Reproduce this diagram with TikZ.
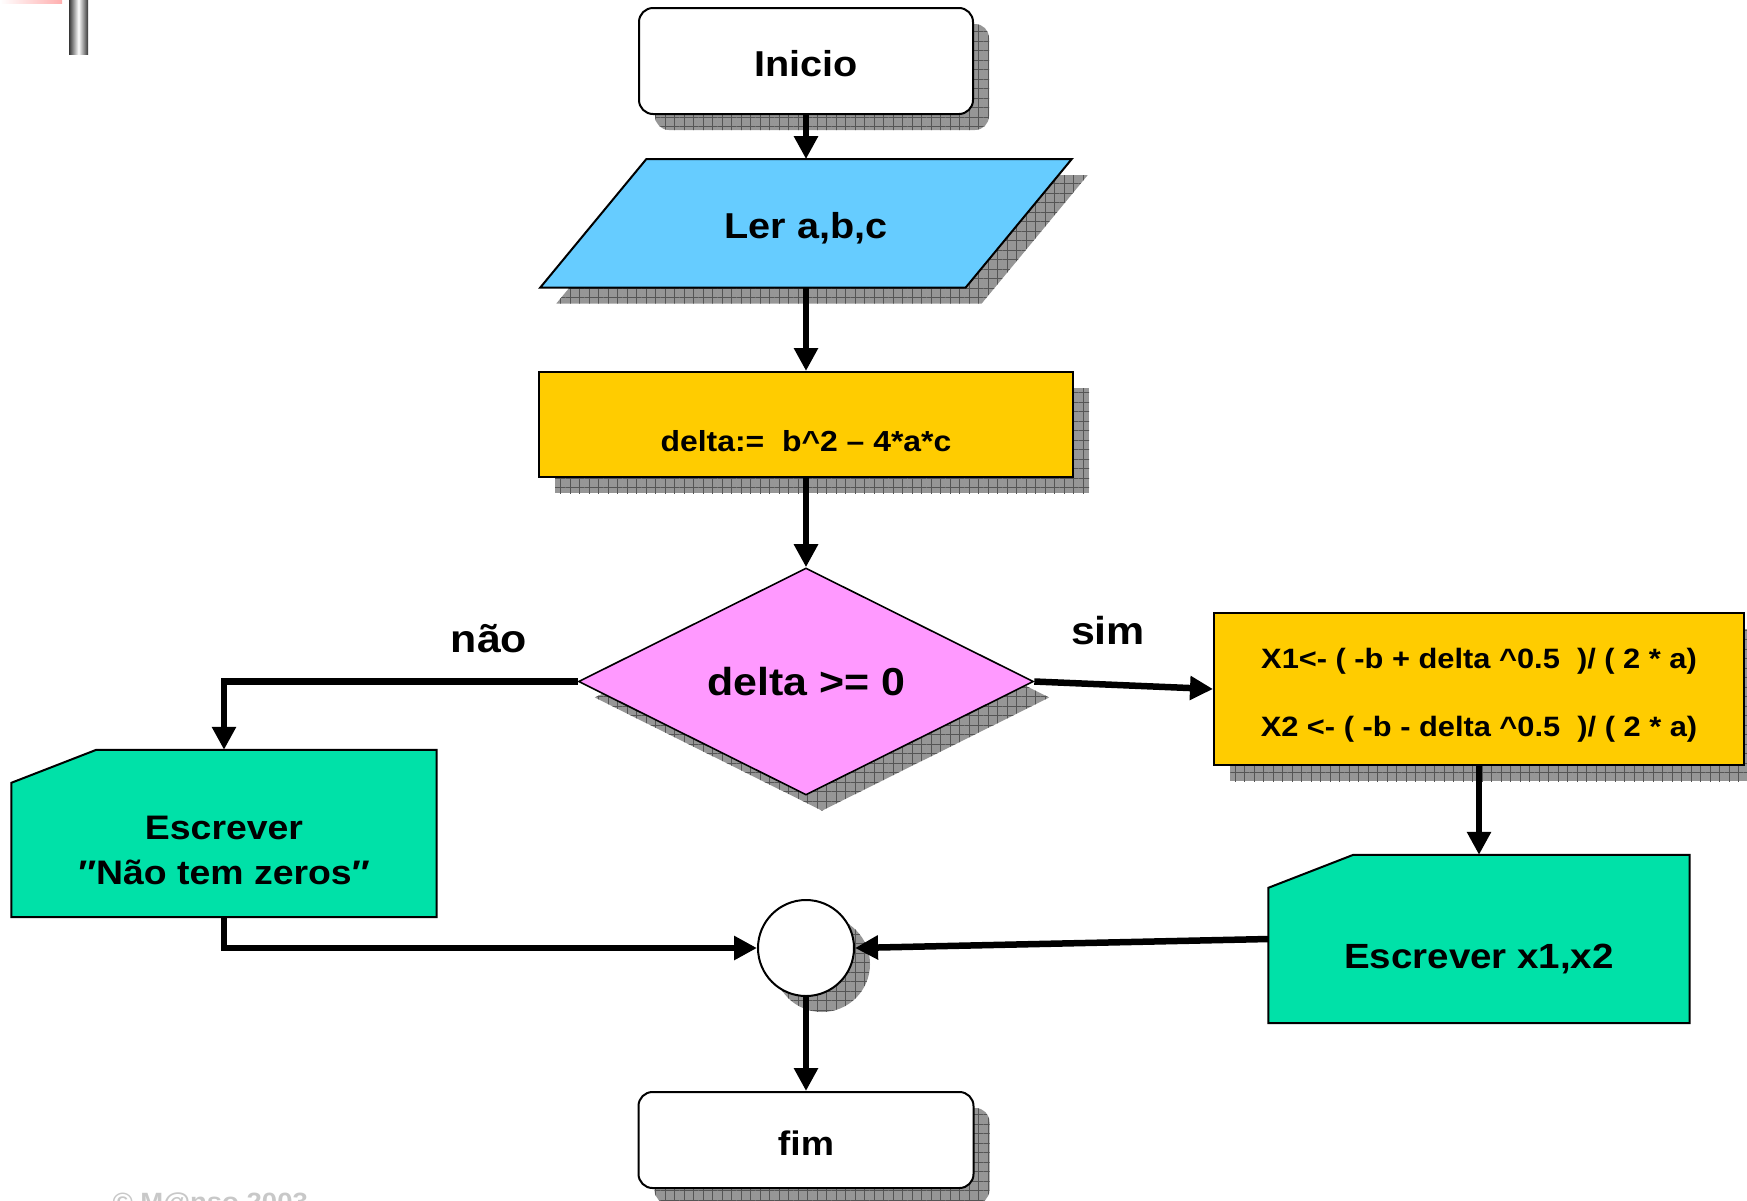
\documentclass[tikz,border=0pt]{standalone}
\usepackage{fontspec}
\setmainfont{Liberation Sans}[FakeStretch=1.1]
\usetikzlibrary{arrows.meta,shapes.geometric,shadows,patterns.meta}
\pgfdeclarelayer{background}
\pgfsetlayers{background,main}
\definecolor{lerblue}{RGB}{102,204,255}
\definecolor{gold}{RGB}{255,204,0}
\definecolor{orchid}{RGB}{255,153,255}
\definecolor{mint}{RGB}{0,225,168}
\definecolor{shadebase}{RGB}{150,150,150}
\definecolor{shadeline}{RGB}{85,85,85}
\definecolor{footgray}{RGB}{200,200,200}
\definecolor{barpink}{RGB}{255,175,175}
\definecolor{bargray}{RGB}{55,55,55}
\begin{document}
\begin{tikzpicture}[x=1pt,y=-1pt,
  hatchshadow/.style={general shadow={shadow xshift=16pt,shadow yshift=-16pt,fill=shadebase,
     postaction={pattern={Hatch[angle=0,distance=9.5pt,line width=0.9pt]},pattern color=shadeline}}},
  outline/.style={draw=black,line width=2pt},
  termbox/.style={outline,fill=white,rounded corners=14pt,hatchshadow,inner sep=0pt,text height=30pt,text depth=0pt},
  procbox/.style={outline,fill=gold,hatchshadow,inner sep=0pt},
  outbox/.style={inner sep=0pt},
  conn/.style={line width=6.5pt,-{Triangle[length=23pt,width=23pt]}},
  fA/.style={font=\bfseries\fontsize{36}{43}\selectfont},
  fB/.style={font=\bfseries\fontsize{34}{44.3}\selectfont},
  fC/.style={font=\bfseries\fontsize{39}{46}\selectfont},
  fD/.style={font=\bfseries\fontsize{29}{35}\selectfont},
  fE/.style={font=\bfseries\fontsize{28}{68.4}\selectfont},
]
\useasboundingbox (0,0) rectangle (1747,1200);
\clip (0,0) rectangle (1747,1200);

% slide decorations
\shade[left color=white, right color=barpink] (0,0) rectangle (62,3);
\shade[left color=bargray, right color=bargray, middle color=white] (69,0) rectangle (88,54);

% nodes
\node[termbox, fA, minimum width=334pt, minimum height=106pt] (ini) at (806,61) {Inicio};
\node[outbox, fA, text height=30pt, text depth=0pt, minimum width=531pt, minimum height=128pt]
      (ler) at (806,223.3) {Ler a,b,c};
\node[procbox, minimum width=534pt, minimum height=105pt] (delta) at (806,424.5) {};
\node[fD] (deltatext) at ([yshift=-17pt]delta.center) {delta:=\ \ b\textasciicircum{}2 – 4*a*c};
\node[diamond, aspect=2, outline, line width=1.6pt, fill=orchid, hatchshadow, inner sep=0pt, fC,
      text height=28.4pt, text depth=0pt,
      minimum width=455pt, minimum height=227pt] (dec) at (806,681.5) {delta >= 0};
\node[procbox, minimum width=530pt, minimum height=152pt] (rb) at (1479,689) {};
\node[fE, align=center] (rbtext) at ([yshift=-6pt]rb.center)
      {X1<- ( -b + delta \textasciicircum{}0.5\ \ )/ ( 2 * a)\\X2 <- ( -b - delta \textasciicircum{}0.5\ \ )/ ( 2 * a)};
\node[outbox, minimum width=425pt, minimum height=167pt] (e1) at (224,833.5) {};
\node[fB, align=center] (e1text) at ([yshift=-17pt]e1.center) {Escrever\\″Não tem zeros″};
\node[outbox, minimum width=421pt, minimum height=168pt] (e2) at (1479,939) {};
\node[font=\bfseries\fontsize{35}{42}\selectfont] (e2text) at ([yshift=-20pt]e2.center) {Escrever x1,x2};
\node[circle, outline, fill=white, hatchshadow, minimum size=96pt, inner sep=0pt] (jn) at (806,948) {};
\node[termbox, font=\bfseries\fontsize{34}{40}\selectfont, minimum width=335pt, minimum height=96pt] (fim) at (806,1140) {fim};

\node[fC, anchor=base] (nao) at (489,652) {não};
\node[fC, anchor=base] (sim) at (1108,644) {sim};
\node[anchor=base west, text=footgray, font=\bfseries\fontsize{25}{30}\selectfont] (foot) at (109,1210) {© M@nso 2003};

% shapes drawn behind their texts
\begin{pgfonlayer}{background}
\filldraw[outline, fill=lerblue, hatchshadow] ([xshift=106pt]ler.north west) -- (ler.north east)
   -- ([xshift=-106pt]ler.south east) -- (ler.south west) -- cycle;
\filldraw[outline, fill=mint] ([xshift=85pt]e1.north west) -- (e1.north east) -- (e1.south east)
   -- (e1.south west) -- ([yshift=-33pt]e1.north west) -- cycle;
\filldraw[outline, fill=mint] ([xshift=85pt]e2.north west) -- (e2.north east) -- (e2.south east)
   -- (e2.south west) -- ([yshift=-33pt]e2.north west) -- cycle;
\end{pgfonlayer}

% connectors
\draw[conn] (ini.south) -- (ler.north);
\draw[conn] (ler.south) -- (delta.north);
\draw[conn] (delta.south) -- (dec.north);
\draw[conn] (dec.west) -| (e1.north);
\draw[conn] (dec.east) -- (rb.west);
\draw[conn] (rb.south) -- (e2.north);
\draw[conn] (e1.south) |- (jn.west);
\draw[conn] (e2.west) -- (jn.east);
\draw[conn] (jn.south) -- (fim.north);
\end{tikzpicture}
\end{document}
